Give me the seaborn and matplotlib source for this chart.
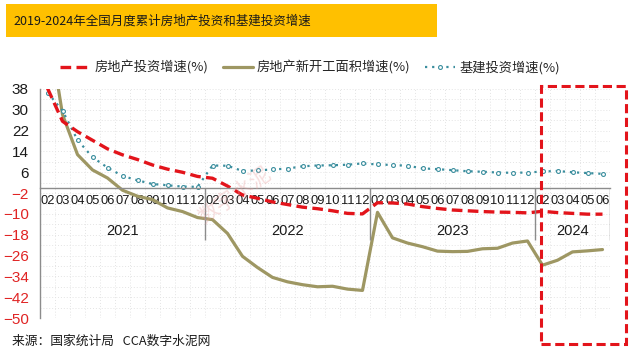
import numpy as np
import pandas as pd
import matplotlib
matplotlib.use("Agg")
import matplotlib.pyplot as plt
from matplotlib import font_manager
from matplotlib.patches import Rectangle
import matplotlib.ticker as mticker
import seaborn as sns

# monthly cumulative growth, %, Feb..Dec each year, 2024 through June
years = ["2021", "2022", "2023", "2024"]
months_full = ["02", "03", "04", "05", "06", "07", "08", "09", "10", "11", "12"]
months_2024 = ["02", "03", "04", "05", "06"]
month_labels = months_full * 3 + months_2024

realestate_inv = [38.3, 25.6, 21.6, 18.3, 15.0, 12.7, 10.9, 8.8, 7.2, 6.0, 4.4,
                  3.7, 0.7, -2.7, -4.0, -5.4, -6.4, -7.4, -8.0, -8.8, -9.8, -10.0,
                  -5.7, -5.8, -6.2, -7.2, -7.9, -8.5, -8.8, -9.1, -9.3, -9.4, -9.6,
                  -9.0, -9.5, -9.8, -10.1, -10.1]
new_start_area = [64.3, 28.2, 12.8, 6.9, 3.8, -0.9, -3.2, -4.5, -7.7, -9.1, -11.4,
                  -12.2, -17.5, -26.3, -30.6, -34.4, -36.1, -37.2, -38.0, -37.8, -38.9, -39.4,
                  -9.4, -19.2, -21.2, -22.6, -24.3, -24.5, -24.4, -23.4, -23.2, -21.2, -20.4,
                  -29.7, -27.8, -24.6, -24.2, -23.7]
infra_inv = [36.6, 29.7, 18.4, 11.8, 7.8, 4.6, 2.9, 1.5, 1.0, 0.5, 0.4,
             8.6, 8.5, 6.5, 6.7, 7.1, 7.4, 8.3, 8.6, 8.7, 8.9, 9.4,
             9.0, 8.8, 8.5, 7.5, 7.2, 6.8, 6.4, 6.2, 5.9, 5.8, 5.9,
             6.3, 6.5, 6.0, 5.7, 5.4]

year_sizes = [11, 11, 11, 5]
series_names = ["房地产投资增速(%)", "房地产新开工面积增速(%)", "基建投资增速(%)"]

sns.set_style("white")
plt.rcParams['font.family'] = ['Noto Sans CJK SC', 'DejaVu Sans']

names = {f.name for f in font_manager.fontManager.ttflist}
num_font = "Liberation Sans Narrow" if "Liberation Sans Narrow" in names else "Liberation Sans"
month_size = 11 if num_font == "Liberation Sans Narrow" else 9.3

fig = plt.figure(figsize=(6.33, 3.53), dpi=100)
ax = fig.add_axes([40 / 633, 1 - 318 / 353, 570 / 633, 229 / 353])

x = np.arange(len(month_labels))
df = pd.DataFrame({"x": x, "re": realestate_inv, "ns": new_start_area, "inf": infra_inv})

red = "#E3141B"
olive = "#9E9763"
teal = "#3B8E9E"

sns.lineplot(data=df, x="x", y="ns", ax=ax, color=olive, lw=2.3, label=series_names[1])
sns.lineplot(data=df, x="x", y="inf", ax=ax, color=teal, lw=1.6, linestyle=(0, (1, 2.2)),
             marker="o", markersize=2.8, markerfacecolor="white", markeredgecolor=teal,
             markeredgewidth=0.8, label=series_names[2])
sns.lineplot(data=df, x="x", y="re", ax=ax, color=red, lw=2.4, linestyle=(0, (3.2, 1.6)),
             label=series_names[0])

ax.set_xlim(-0.5, len(x) - 0.5)
ax.set_ylim(-50, 38)
ax.set_xlabel("")
ax.set_ylabel("")

# y axis
ax.yaxis.set_major_locator(mticker.FixedLocator(np.arange(38, -51, -8)))
ax.yaxis.set_minor_locator(mticker.FixedLocator(np.arange(38, -51, -4)))
ax.tick_params(axis="y", which="major", direction="out", length=4, color="#8c8c8c",
               labelsize=11, pad=4)
ax.tick_params(axis="y", which="minor", length=0)
for lab in ax.get_yticklabels():
    lab.set_fontfamily("Liberation Sans")
    v = float(lab.get_text().replace("−", "-"))
    lab.set_color("#E02424" if v < 0 else "#1a1a1a")

# x axis at zero
ax.spines["bottom"].set_position(("data", 0))
for s in ["top", "right"]:
    ax.spines[s].set_visible(False)
for s in ["left", "bottom"]:
    ax.spines[s].set_color("#8c8c8c")
    ax.spines[s].set_linewidth(1.0)

ax.set_xticks(x)
ax.set_xticklabels(month_labels, fontfamily=num_font, fontsize=month_size, color="#1a1a1a")
ax.xaxis.set_minor_locator(mticker.FixedLocator(np.arange(-0.5, len(x), 1.0)))
ax.tick_params(axis="x", which="major", length=0, pad=5)
ax.tick_params(axis="x", which="minor", direction="out", length=11, color="#8c8c8c", width=1.0)

# year separators and year labels
bounds = np.cumsum([0] + year_sizes) - 0.5
ax.vlines(bounds[1:], -20, 0, color="#8c8c8c", lw=1.0)
for i, yr in enumerate(years):
    ax.text((bounds[i] + bounds[i + 1]) / 2, -16.5, yr, ha="center", va="center",
            fontfamily="Liberation Sans", fontsize=10.5, color="#1a1a1a")

# faint dotted grid
ax.grid(True, which="both", axis="y", color="#e4e4e4", lw=0.7, linestyle=(0, (1, 2)))
ax.grid(True, which="minor", axis="x", color="#e4e4e4", lw=0.7, linestyle=(0, (1, 2)))
ax.set_axisbelow(True)

# legend
handles, labels = ax.get_legend_handles_labels()
order = [labels.index(n) for n in series_names]
ax.get_legend().remove()
fig.legend([handles[i] for i in order], [labels[i] for i in order], loc="center",
           bbox_to_anchor=(310 / 633, 1 - 68 / 353), ncol=3, frameon=False,
           fontsize=9.5, handlelength=2.3, columnspacing=1.1, handletextpad=0.3)

# title bar
fig.patches.append(Rectangle((6 / 633, 1 - 37 / 353), 431 / 633, 33 / 353,
                             transform=fig.transFigure, facecolor="#FFC000",
                             edgecolor="none", zorder=0))
fig.text(13 / 633, 1 - 21 / 353, "2019-2024年全国月度累计房地产投资和基建投资增速",
         fontsize=9.0, color="#1a1a1a", va="center", ha="left")

# source
fig.text(12 / 633, 1 - 341 / 353, "来源：国家统计局   CCA数字水泥网",
         fontsize=9.2, color="#1a1a1a", va="center", ha="left")

# watermark
fig.text(235 / 633, 1 - 195 / 353, "数字水泥", fontsize=15, color="#e8a0a0",
         alpha=0.35, rotation=35, ha="center", va="center")

# highlight box around 2024
fig.patches.append(Rectangle((541 / 633, 1 - 344 / 353), 85 / 633, 258 / 353,
                             transform=fig.transFigure, facecolor="none",
                             edgecolor=red, lw=2.2, linestyle=(0, (3, 1.5)), zorder=5))

fig.savefig("out.png", dpi=100)
